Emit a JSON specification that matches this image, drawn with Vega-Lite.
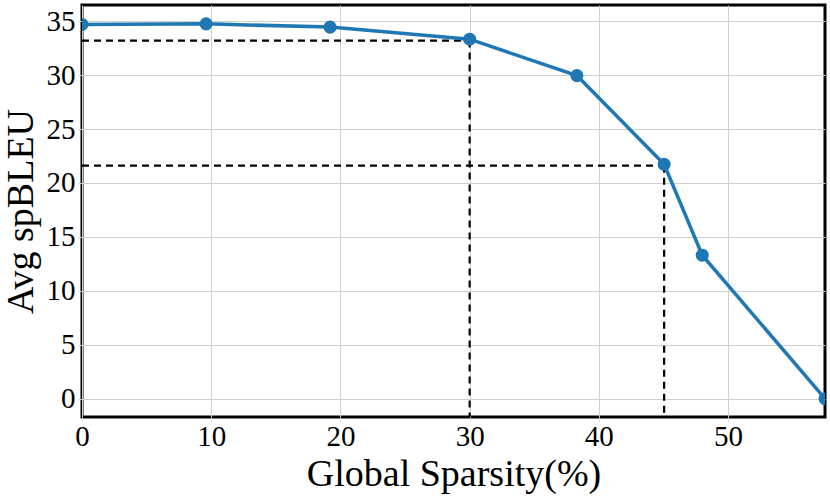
{
  "$schema": "https://vega.github.io/schema/vega-lite/v6.json",
  "autosize": {"type": "none"},
  "padding": {"left": 82, "top": 5, "right": 5, "bottom": 81},
  "width": 743,
  "height": 412,
  "background": "white",
  "datasets": {
    "curve": [
      {"sparsity": 0, "spbleu": 34.7},
      {"sparsity": 9.6, "spbleu": 34.75},
      {"sparsity": 19.2, "spbleu": 34.45},
      {"sparsity": 30.0, "spbleu": 33.33},
      {"sparsity": 38.3, "spbleu": 29.95},
      {"sparsity": 45.05, "spbleu": 21.73},
      {"sparsity": 48.0, "spbleu": 13.3},
      {"sparsity": 57.5, "spbleu": 0.0}
    ],
    "guides": [
      {"x": 0, "x2": 30, "y": 33.2, "y2": 33.2},
      {"x": 30, "x2": 30, "y": 33.2, "y2": -1.7},
      {"x": 0, "x2": 45.05, "y": 21.6, "y2": 21.6},
      {"x": 45.05, "x2": 45.05, "y": 21.6, "y2": -1.7}
    ]
  },
  "layer": [
    {
      "data": {"name": "guides"},
      "mark": {"type": "rule", "color": "black", "strokeWidth": 2.2, "strokeDash": [7, 5]},
      "encoding": {
        "x": {"field": "x", "type": "quantitative"},
        "x2": {"field": "x2"},
        "y": {"field": "y", "type": "quantitative"},
        "y2": {"field": "y2"}
      }
    },
    {
      "data": {"name": "curve"},
      "mark": {"type": "line", "color": "#1f77b4", "strokeWidth": 3.5, "clip": true},
      "encoding": {
        "x": {"field": "sparsity", "type": "quantitative"},
        "y": {"field": "spbleu", "type": "quantitative"}
      }
    },
    {
      "data": {"name": "curve"},
      "mark": {"type": "point", "filled": true, "color": "#1f77b4", "opacity": 1, "size": 170, "clip": true},
      "encoding": {
        "x": {
          "field": "sparsity",
          "type": "quantitative",
          "title": "Global Sparsity(%)",
          "scale": {"domain": [0, 57.5], "nice": false, "zero": false},
          "axis": {"values": [0, 10, 20, 30, 40, 50], "labelPadding": 1, "titlePadding": 4}
        },
        "y": {
          "field": "spbleu",
          "type": "quantitative",
          "title": "Avg spBLEU",
          "scale": {"domain": [-1.7, 36.5], "nice": false, "zero": false},
          "axis": {"values": [0, 5, 10, 15, 20, 25, 30, 35], "labelPadding": 3, "titlePadding": 6}
        }
      }
    }
  ],
  "config": {
    "font": "Liberation Serif",
    "view": {"stroke": "black", "strokeWidth": 3},
    "axis": {
      "domain": false,
      "grid": true,
      "gridColor": "#cfcfcf",
      "gridWidth": 1,
      "tickColor": "#cfcfcf",
      "tickSize": 4,
      "labelFlush": false,
      "labelFont": "Liberation Serif",
      "labelFontSize": 29,
      "labelColor": "black",
      "titleFont": "Liberation Serif",
      "titleFontSize": 38,
      "titleFontWeight": "normal",
      "titleColor": "black"
    }
  }
}
